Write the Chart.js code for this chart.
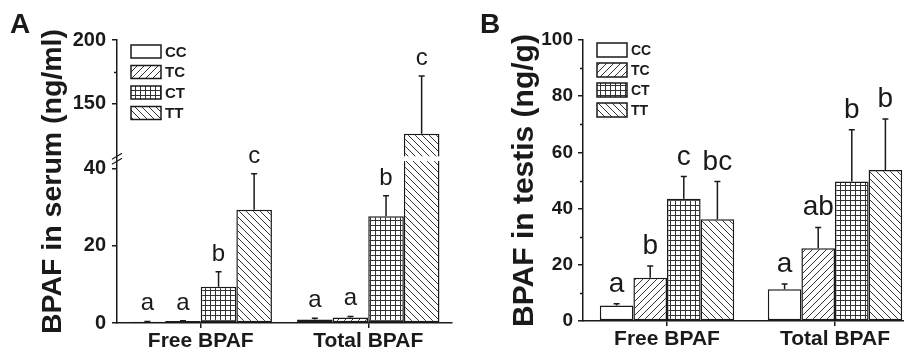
<!DOCTYPE html>
<html lang="en">
<head>
<meta charset="UTF-8">
<title>BPAF in serum and testis</title>
<script src="https://cdn.jsdelivr.net/npm/chart.js"></script>
<style>
    html, body { margin: 0; padding: 0; overflow: hidden; background: #fff; }
    #wrap { position: relative; width: 904px; height: 351px; overflow: hidden; }
    canvas { position: absolute; top: 0; }
    #chartA { left: 0; }
    #chartB { left: 460px; }
</style>
</head>
<body>
<div id="wrap">
    <canvas id="chartA" width="460" height="351"></canvas>
    <canvas id="chartB" width="470" height="351"></canvas>
</div>
<script>
    const groups = ['Free BPAF', 'Total BPAF'];
    const genotypes = ['CC', 'TC', 'CT', 'TT'];

    // serum, ng/ml -- one row per genotype, columns follow groups
    const serumMean = [[0.3, 0.9], [0.5, 1.4], [9.4, 27.7], [29.4, 126.6]];
    const serumSD = [[0.1, 0.3], [0.1, 0.3], [3.9, 5.3], [9.3, 45.3]];
    const serumLetters = [['a', 'a'], ['a', 'a'], ['b', 'b'], ['c', 'c']];
    const serumTicks = [0, 20, 40, 150, 200];
    const serumMinor = [175];

    // testis, ng/g
    const testisMean = [[5.5, 11.3], [15.4, 25.9], [43.5, 49.6], [36.2, 53.7]];
    const testisSD = [[0.6, 1.9], [4.2, 7.4], [7.9, 18.5], [13.4, 18.2]];
    const testisLetters = [['a', 'a'], ['b', 'ab'], ['c', 'b'], ['bc', 'b']];
    const testisTicks = [0, 20, 40, 60, 80, 100];
    const testisMinor = [10, 30, 50, 70, 90];

    // broken y axis of panel A: 0..low sits in the lower part, high..max in the upper part
    const serumBreak = { low: 42, high: 109, lowFrac: 0.572, highFrac: 0.589 };

    const ink = '#1a1a1a';
    const fam = 'Arial, "Liberation Sans", sans-serif';
    Chart.defaults.font.family = fam;
    Chart.defaults.color = ink;

    class BrokenScale extends Chart.LinearScale {
        getPixelForValue(value) {
            const b = serumBreak;
            let f;
            if (value <= b.low) f = (value - this.min) / (b.low - this.min) * b.lowFrac;
            else if (value >= b.high) f = b.highFrac + (value - b.high) / (this.max - b.high) * (1 - b.highFrac);
            else f = b.lowFrac + (value - b.low) / (b.high - b.low) * (b.highFrac - b.lowFrac);
            return this.getPixelForDecimal(f);
        }
    }
    BrokenScale.id = 'broken';
    BrokenScale.defaults = Chart.LinearScale.defaults;
    Chart.register(BrokenScale);

    function hatch(kind) {
        const s = kind === 'grid' ? 5 : 7;
        const c = document.createElement('canvas');
        c.width = s; c.height = s;
        const g = c.getContext('2d');
        g.fillStyle = '#fff';
        g.fillRect(0, 0, s, s);
        g.strokeStyle = '#333';
        g.lineWidth = 1;
        g.beginPath();
        if (kind === 'fwd') {
            g.moveTo(-1, s + 1); g.lineTo(s + 1, -1);
            g.moveTo(-1, 1); g.lineTo(1, -1);
            g.moveTo(s - 1, s + 1); g.lineTo(s + 1, s - 1);
        } else if (kind === 'back') {
            g.moveTo(-1, -1); g.lineTo(s + 1, s + 1);
            g.moveTo(s - 1, -1); g.lineTo(s + 1, 1);
            g.moveTo(-1, s - 1); g.lineTo(1, s + 1);
        } else {
            g.moveTo(0.5, 0); g.lineTo(0.5, s);
            g.moveTo(0, 0.5); g.lineTo(s, 0.5);
        }
        g.stroke();
        return g.createPattern(c, 'repeat');
    }
    const fills = ['#fff', hatch('fwd'), hatch('grid'), hatch('back')];

    const errorBars = {
        id: 'errorBars',
        afterDatasetsDraw(chart, args, o) {
            const ctx = chart.ctx;
            const y = chart.scales.y;
            ctx.save();
            chart.data.datasets.forEach((ds, i) => {
                chart.getDatasetMeta(i).data.forEach((bar, j) => {
                    const top = y.getPixelForValue(ds.data[j] + ds.sd[j]);
                    ctx.strokeStyle = ink;
                    ctx.lineWidth = 1.5;
                    ctx.beginPath();
                    ctx.moveTo(bar.x, bar.y);
                    ctx.lineTo(bar.x, top);
                    ctx.moveTo(bar.x - o.cap, top);
                    ctx.lineTo(bar.x + o.cap, top);
                    ctx.stroke();
                    ctx.fillStyle = ink;
                    ctx.font = o.font;
                    ctx.textAlign = 'center';
                    ctx.textBaseline = 'alphabetic';
                    ctx.fillText(ds.letters[j], bar.x, top - o.gap);
                });
            });
            ctx.restore();
        }
    };

    const minorTicks = {
        id: 'minorTicks',
        afterDraw(chart, args, o) {
            const ctx = chart.ctx;
            const y = chart.scales.y;
            const x0 = chart.chartArea.left;
            ctx.save();
            ctx.strokeStyle = ink;
            ctx.lineWidth = 1.5;
            ctx.beginPath();
            o.values.forEach(v => {
                const py = Math.round(y.getPixelForValue(v)) + 0.5;
                ctx.moveTo(x0 - o.len, py);
                ctx.lineTo(x0, py);
            });
            ctx.stroke();
            ctx.restore();
        }
    };

    const boxLegend = {
        id: 'boxLegend',
        afterDraw(chart, args, o) {
            const ctx = chart.ctx;
            const area = chart.chartArea;
            ctx.save();
            chart.data.datasets.forEach((ds, i) => {
                const x = area.left + o.dx;
                const y = area.top + o.dy + i * o.step;
                ctx.fillStyle = ds.backgroundColor;
                ctx.fillRect(x, y, o.w, o.h);
                ctx.strokeStyle = ink;
                ctx.lineWidth = 1.5;
                ctx.strokeRect(x, y, o.w, o.h);
                ctx.fillStyle = ink;
                ctx.font = o.font;
                ctx.textAlign = 'left';
                ctx.textBaseline = 'middle';
                ctx.fillText(ds.label, x + o.w + o.pad, y + o.h / 2 + 1);
            });
            ctx.restore();
        }
    };

    // white band across the bars at the break, then the two slashes on the axis
    const axisBreak = {
        id: 'axisBreak',
        afterDatasetsDraw(chart) {
            const ctx = chart.ctx;
            const y = chart.scales.y;
            const area = chart.chartArea;
            const y1 = y.getPixelForValue(serumBreak.high);
            const y2 = y.getPixelForValue(serumBreak.low);
            ctx.save();
            ctx.fillStyle = '#fff';
            ctx.fillRect(area.left, y1, area.right - area.left, y2 - y1);
            ctx.restore();
        },
        afterDraw(chart) {
            const ctx = chart.ctx;
            const y = chart.scales.y;
            const x = chart.chartArea.left;
            const yc = (y.getPixelForValue(serumBreak.high) + y.getPixelForValue(serumBreak.low)) / 2;
            ctx.save();
            ctx.strokeStyle = ink;
            ctx.lineWidth = 1.2;
            ctx.beginPath();
            [-2.5, 2.5].forEach(off => {
                ctx.moveTo(x - 5, yc + off + 3);
                ctx.lineTo(x + 5, yc + off - 3);
            });
            ctx.stroke();
            ctx.restore();
        }
    };

    function buildChart(id, p) {
        const datasets = genotypes.map((g, i) => ({
            label: g,
            data: p.mean[i],
            sd: p.sd[i],
            letters: p.letters[i],
            backgroundColor: fills[i],
            borderColor: ink,
            borderWidth: 1.5,
            borderSkipped: false,
            barPercentage: 1,
            categoryPercentage: p.catPct
        }));
        const plugins = p.broken ? [axisBreak, errorBars, minorTicks, boxLegend]
                                 : [errorBars, minorTicks, boxLegend];
        return new Chart(document.getElementById(id), {
            type: 'bar',
            data: { labels: groups, datasets: datasets },
            plugins: plugins,
            options: {
                responsive: false,
                animation: false,
                events: [],
                layout: { padding: { left: p.padLeft, right: p.padRight, top: 0, bottom: 0 } },
                plugins: {
                    legend: { display: false },
                    tooltip: { enabled: false },
                    title: {
                        display: true,
                        text: p.panel,
                        align: 'start',
                        color: ink,
                        font: { size: 28, weight: 'bold', lineHeight: 1 },
                        padding: { top: 11, bottom: 1 }
                    },
                    errorBars: { cap: 3, gap: p.letterGap, font: p.letterSize + 'px ' + fam },
                    minorTicks: { values: p.minor, len: 3 },
                    boxLegend: {
                        dx: 14, dy: p.legendDy, step: p.legendStep, w: 30, h: p.legendH, pad: 4,
                        font: 'bold ' + p.legendSize + 'px ' + fam
                    }
                },
                scales: {
                    x: {
                        offset: true,
                        grid: {
                            display: true, drawOnChartArea: false, drawTicks: true,
                            tickLength: 5, offset: false, color: ink, lineWidth: 1.5
                        },
                        border: { display: true, color: ink, width: 1.5, z: 1 },
                        ticks: {
                            color: ink, padding: 3, maxRotation: 0, autoSkip: false,
                            font: { size: 21, weight: 'bold', lineHeight: 1 }
                        },
                        afterFit: s => { s.height = p.xHeight; }
                    },
                    y: {
                        type: p.broken ? 'broken' : 'linear',
                        min: 0,
                        max: p.ticks[p.ticks.length - 1],
                        afterBuildTicks: s => { s.ticks = p.ticks.map(v => ({ value: v })); },
                        grid: {
                            display: true, drawOnChartArea: false, drawTicks: true,
                            tickLength: 5, color: ink, lineWidth: 1.5
                        },
                        border: { display: true, color: ink, width: 1.5, z: 1 },
                        ticks: {
                            color: ink, padding: p.tickPad,
                            font: { size: p.tickSize, weight: 'bold' }
                        },
                        title: {
                            display: true,
                            text: p.yTitle,
                            color: ink,
                            font: { size: p.titleSize, weight: 'bold', lineHeight: 1 },
                            padding: { top: p.titlePad, bottom: 0 }
                        },
                        afterFit: s => { s.width = p.yWidth; }
                    }
                }
            }
        });
    }

    buildChart('chartA', {
        panel: 'A', mean: serumMean, sd: serumSD, letters: serumLetters,
        ticks: serumTicks, minor: serumMinor, broken: true,
        yTitle: 'BPAF in serum (ng/ml)', titleSize: 28.5, titlePad: 28.75,
        padLeft: 10, padRight: 8, yWidth: 107, xHeight: 28,
        catPct: 0.85, tickSize: 20, tickPad: 6,
        letterSize: 24, letterGap: 11,
        legendDy: 5, legendStep: 20.5, legendH: 13, legendSize: 15
    });

    buildChart('chartB', {
        panel: 'B', mean: testisMean, sd: testisSD, letters: testisLetters,
        ticks: testisTicks, minor: testisMinor, broken: false,
        yTitle: 'BPAF in testis (ng/g)', titleSize: 30, titlePad: 29.5,
        padLeft: 20, padRight: 11, yWidth: 103, xHeight: 30,
        catPct: 0.80, tickSize: 19, tickPad: 5,
        letterSize: 28, letterGap: 12,
        legendDy: 3, legendStep: 20, legendH: 14, legendSize: 14
    });
</script>
</body>
</html>
